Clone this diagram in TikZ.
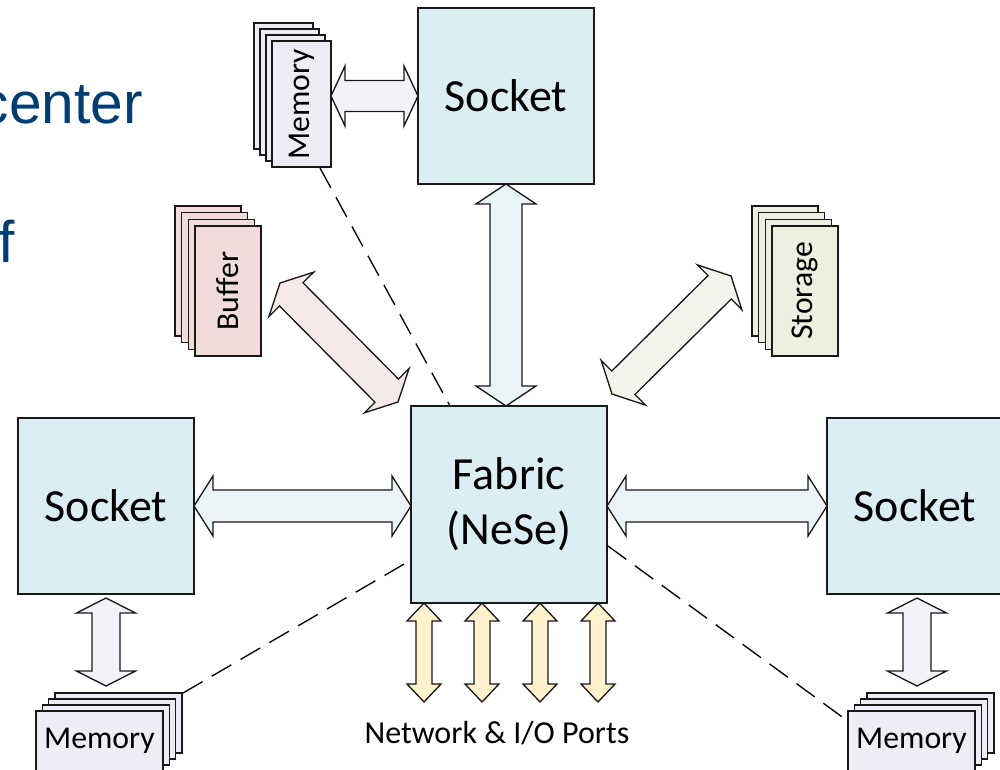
\documentclass[tikz,border=0pt]{standalone}
\usepackage{fontspec}
\setmainfont{Carlito}
\newfontfamily\arialf{Liberation Sans}
\usepackage{graphicx}
\usetikzlibrary{calc}
\definecolor{sockfill}{RGB}{218,238,243}
\definecolor{sockarrow}{RGB}{234,244,247}
\definecolor{memfill}{RGB}{238,236,245}
\definecolor{memarrow}{RGB}{243,242,248}
\definecolor{buffill}{RGB}{242,220,219}
\definecolor{bufarrow}{RGB}{246,233,233}
\definecolor{stofill}{RGB}{235,241,222}
\definecolor{stoarrow}{RGB}{242,245,236}
\definecolor{portfill}{RGB}{255,242,204}
\definecolor{titleblue}{RGB}{0,61,115}
\newcommand{\DArrow}[6]{%
  \path (#1) coordinate (da-a) (#2) coordinate (da-b);
  \path ($(da-a)!#5*0.75pt!(da-b)$) coordinate (da-a1)
        ($(da-b)!#5*0.75pt!(da-a)$) coordinate (da-b1);
  \draw[arrowline, fill=#6] (da-a)
    -- ($(da-a1)!#3*0.375pt!90:(da-b)$)
    -- ($(da-a1)!#4*0.375pt!90:(da-b)$)
    -- ($(da-b1)!#4*0.375pt!-90:(da-a)$)
    -- ($(da-b1)!#3*0.375pt!-90:(da-a)$)
    -- (da-b)
    -- ($(da-b1)!#3*0.375pt!90:(da-a)$)
    -- ($(da-b1)!#4*0.375pt!90:(da-a)$)
    -- ($(da-a1)!#4*0.375pt!-90:(da-b)$)
    -- ($(da-a1)!#3*0.375pt!-90:(da-b)$)
    -- cycle;}
\begin{document}
\begin{tikzpicture}[x=0.75pt,y=-0.75pt,
  boxline/.style={draw=black!90, line width=1.1pt},
  sockbox/.style={boxline, fill=sockfill, inner sep=0pt, outer sep=0pt,
     minimum width=132pt, minimum height=132pt, anchor=north west,
     font=\fontsize{34.5}{41.4}\selectfont},
  card/.style={boxline, inner sep=0pt, outer sep=0pt, anchor=north west,
     font=\fontsize{23.8}{28}\selectfont},
  arrowline/.style={draw=black!90, line width=1pt, line join=miter},
  dashline/.style={draw=black, line width=1pt, dash pattern=on 17pt off 8pt}]
\clip (0,0) rectangle (1000,769);
\useasboundingbox (0,0) rectangle (1000,769);

% title fragments
\node[font=\arialf\fontsize{44}{52}\selectfont, text=titleblue, anchor=base east, inner sep=0pt] (t1) at (143,123) {center};
\node[font=\arialf\fontsize{44}{52}\selectfont, text=titleblue, anchor=base west, inner sep=0pt] (t2) at (-2,262) {f};

% sockets and fabric
\node[sockbox] (tsock) at (418,8) {Socket};
\node[sockbox] (lsock) at (18,418) {Socket};
\node[sockbox] (rsock) at (827,418) {Socket};
\node[sockbox, minimum width=147pt, minimum height=147.75pt, align=center] (fab) at (411,406) {Fabric\\(NeSe)};

% top memory stack
\foreach \i in {3,2,1} \draw[boxline, fill=memfill] (272-6*\i,41-6*\i) rectangle ++(59,126);
\node[card, fill=memfill, minimum width=44.25pt, minimum height=94.5pt] (tmem) at (272,41) {\rotatebox{90}{Memory}};

% buffer stack
\foreach \i in {3,2,1} \draw[boxline, fill=buffill] (195-6.67*\i,226-6.67*\i) rectangle ++(66,130);
\node[card, fill=buffill, minimum width=49.5pt, minimum height=97.5pt] (buf) at (195,226) {\rotatebox{90}{Buffer}};

% storage stack
\foreach \i in {3,2,1} \draw[boxline, fill=stofill] (772-6.67*\i,226-6.67*\i) rectangle ++(66,130);
\node[card, fill=stofill, minimum width=49.5pt, minimum height=97.5pt] (sto) at (772,226) {\rotatebox{90}{Storage}};

% bottom-left memory stack
\foreach \i in {3,2,1} \draw[boxline, fill=memfill] (36+6.33*\i,711-6*\i) rectangle ++(127,60);
\node[card, fill=memfill, minimum width=95.25pt, minimum height=45pt] (blmem) at (36,711) {Memory};

% bottom-right memory stack
\foreach \i in {3,2,1} \draw[boxline, fill=memfill] (848+6.33*\i,711-6*\i) rectangle ++(127,60);
\node[card, fill=memfill, minimum width=95.25pt, minimum height=45pt] (brmem) at (848,711) {Memory};

% dashed lines
\coordinate (d1a) at (320,168);
\coordinate (d1b) at (450,406);
\coordinate (d2a) at (183,693);
\coordinate (d2b) at (411,560);
\coordinate (d3a) at (608,546);
\coordinate (d3b) at (845,719);
\draw[dashline] (d1a) -- (d1b);
\draw[dashline] (d2a) -- (d2b);
\draw[dashline] (d3a) -- (d3b);

% block arrows
\DArrow{tmem.east |- tsock.west}{tsock.west}{60}{31}{14}{memarrow}
\DArrow{tsock.south}{tsock.south |- fab.north}{60}{32}{20}{sockarrow}
\DArrow{lsock.east}{fab.west |- lsock.east}{60}{32}{19}{sockarrow}
\DArrow{fab.east |- rsock.west}{rsock.west}{60}{32}{19}{sockarrow}
\coordinate (la1) at (106,598);
\coordinate (la2) at (106,686);
\coordinate (ra1) at (917,598);
\coordinate (ra2) at (917,686);
\DArrow{la1}{la2}{59}{28}{15}{memarrow}
\DArrow{ra1}{ra2}{59}{28}{15}{memarrow}
\coordinate (ba1) at (280,283);
\coordinate (ba2) at (398,402);
\DArrow{ba1}{ba2}{63}{33}{16}{bufarrow}
\coordinate (sa1) at (612,394);
\coordinate (sa2) at (731,276);
\DArrow{sa1}{sa2}{63}{33}{16}{stoarrow}

% ports
\foreach \x [count=\k] in {424,482,540,598} {
  \coordinate (p\k a) at (\x,603);
  \coordinate (p\k b) at (\x,702);
  \DArrow{p\k a}{p\k b}{34}{16}{18}{portfill}
}
\node[font=\fontsize{24}{28}\selectfont, inner sep=0pt] (ports) at (497,733) {Network \& I/O Ports};
\end{tikzpicture}
\end{document}
